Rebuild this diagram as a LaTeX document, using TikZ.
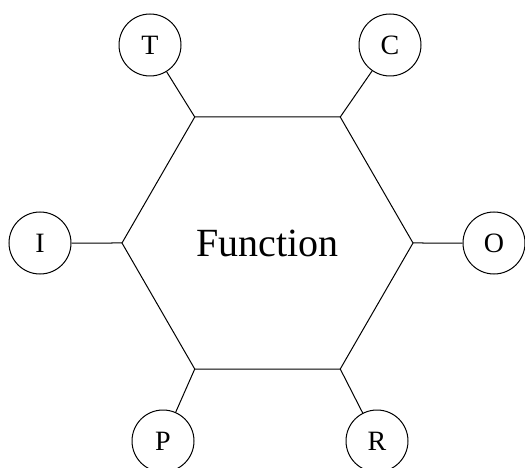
\documentclass[tikz,border=0pt]{standalone}
\usepackage{fontspec}
\setmainfont{Liberation Serif}
\usetikzlibrary{shapes.geometric}

\begin{document}
\begin{tikzpicture}[x=1pt, y=-1pt,
    funchex/.style={regular polygon, regular polygon sides=6, draw, line width=1pt,
        minimum size=291pt, inner sep=0pt, outer sep=0pt, font=\fontsize{40}{44}\selectfont},
    port/.style={circle, draw, line width=1pt, minimum size=62pt, inner sep=0pt,
        font=\fontsize{28}{30}\selectfont},
    link/.style={line width=1pt}
]
    \useasboundingbox (0,0) rectangle (525,468);

    \node[funchex] (fn) at (267.5,243) {Function};

    \node[port] (T) at (150,45) {T};
    \node[port] (C) at (390,45) {C};
    \node[port] (I) at (40,243) {I};
    \node[port] (O) at (494,243) {O};
    \node[port] (P) at (163,441) {P};
    \node[port] (R) at (377,441) {R};

    \draw[link] (T) -- (fn.120);
    \draw[link] (C) -- (fn.60);
    \draw[link] (I) -- (fn.180);
    \draw[link] (O) -- (fn.0);
    \draw[link] (P) -- (fn.240);
    \draw[link] (R) -- (fn.300);
\end{tikzpicture}
\end{document}
